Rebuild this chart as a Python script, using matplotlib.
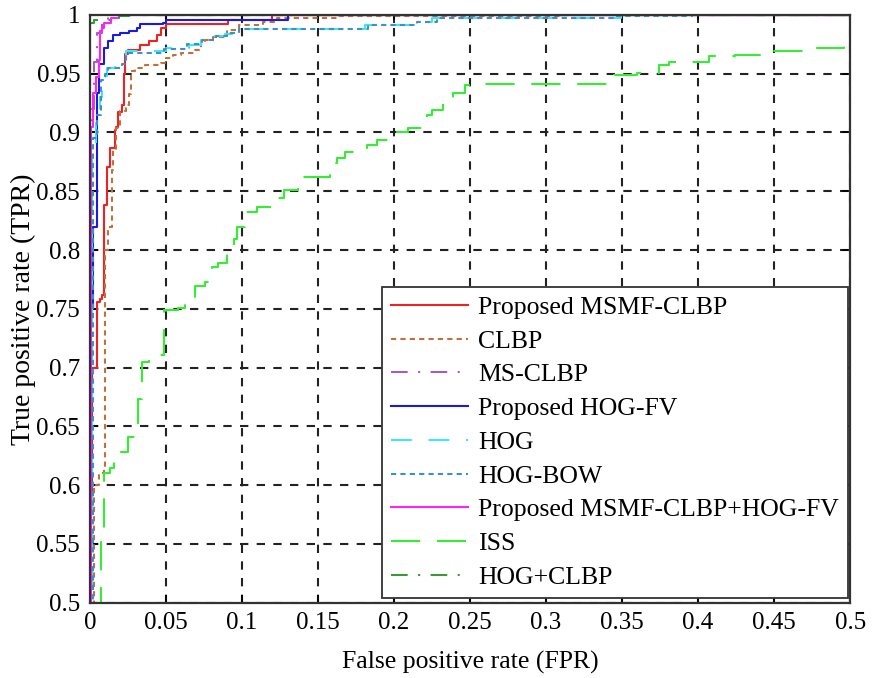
import matplotlib
matplotlib.use("Agg")
import matplotlib.pyplot as plt

plt.rcParams['font.family'] = ['Liberation Serif', 'DejaVu Serif']

# ROC curves as (FPR at jump, TPR after jump), drawn as steps
msmf_x = [0, 0, 0.0015, 0.0045, 0.0065, 0.0077, 0.0091, 0.011, 0.0115, 0.013, 0.0164, 0.0175,
          0.0186, 0.021, 0.0226, 0.023, 0.025, 0.033, 0.039, 0.044, 0.047, 0.050, 0.091, 0.120, 0.5]
msmf_y = [0.45, 0.58, 0.70, 0.756, 0.758, 0.762, 0.838, 0.840, 0.871, 0.887, 0.902, 0.905,
          0.917, 0.923, 0.950, 0.967, 0.970, 0.974, 0.978, 0.983, 0.989, 0.992, 0.996, 1.0, 1.0]

clbp_x = [0.0026, 0.0026, 0.006, 0.0094, 0.0099, 0.012, 0.0143, 0.0153, 0.0175, 0.0197, 0.024,
          0.026, 0.027, 0.030, 0.036, 0.047, 0.050, 0.055, 0.060, 0.069, 0.073, 0.076, 0.081,
          0.090, 0.098, 0.114, 0.123, 0.164, 0.31, 0.5]
clbp_y = [0.45, 0.60, 0.61, 0.615, 0.80, 0.82, 0.868, 0.885, 0.904, 0.918, 0.923,
          0.933, 0.952, 0.955, 0.957, 0.959, 0.963, 0.966, 0.968, 0.970, 0.976, 0.979, 0.981,
          0.987, 0.991, 0.994, 0.997, 0.999, 1.0, 1.0]

msclbp_x = [0, 0.0005, 0.003, 0.005, 0.008, 0.012, 0.5]
msclbp_y = [0.45, 0.92, 0.96, 0.985, 0.995, 1.0, 1.0]

hogfv_x = [0, 0, 0.002, 0.005, 0.006, 0.0094, 0.0116, 0.015, 0.020, 0.026, 0.031, 0.033,
           0.048, 0.050, 0.130, 0.5]
hogfv_y = [0.45, 0.75, 0.82, 0.934, 0.958, 0.972, 0.978, 0.983, 0.985, 0.986, 0.989, 0.992,
           0.993, 0.996, 1.0, 1.0]

hog_x = [0, 0.0015, 0.004, 0.0066, 0.008, 0.0099, 0.011, 0.0164, 0.021, 0.023, 0.024, 0.050,
         0.065, 0.073, 0.082, 0.089, 0.0976, 0.181, 0.217, 0.225, 0.349, 0.5]
hog_y = [0.45, 0.89, 0.91, 0.93, 0.947, 0.948, 0.955, 0.956, 0.957, 0.960, 0.969, 0.972,
         0.974, 0.979, 0.982, 0.984, 0.988, 0.991, 0.994, 0.997, 1.0, 1.0]

hogbow_x = [0, 0.002, 0.005, 0.007, 0.0099, 0.012, 0.021, 0.024, 0.049, 0.064, 0.074, 0.083,
            0.090, 0.098, 0.183, 0.215, 0.228, 0.345, 0.396, 0.5]
hogbow_y = [0.45, 0.895, 0.915, 0.945, 0.950, 0.955, 0.958, 0.968, 0.971, 0.975, 0.979, 0.982,
            0.985, 0.988, 0.991, 0.994, 0.997, 0.999, 1.0, 1.0]

fused_x = [0, 0.0007, 0.002, 0.004, 0.006, 0.0066, 0.0083, 0.0094, 0.014, 0.019, 0.5]
fused_y = [0.45, 0.905, 0.934, 0.947, 0.962, 0.986, 0.989, 0.993, 0.997, 1.0, 1.0]

iss_x = [0.007, 0.007, 0.009, 0.013, 0.016, 0.020, 0.025, 0.0316, 0.034, 0.039, 0.049, 0.058,
         0.0625, 0.069, 0.0757, 0.080, 0.084, 0.090, 0.095, 0.097, 0.102, 0.110, 0.124, 0.128,
         0.137, 0.158, 0.1625, 0.168, 0.176, 0.182, 0.189, 0.202, 0.209, 0.220, 0.222, 0.225,
         0.232, 0.239, 0.247, 0.255, 0.345, 0.36, 0.374, 0.381, 0.407, 0.424, 0.45, 0.475,
         0.496, 0.5]
iss_y = [0.45, 0.56, 0.61, 0.615, 0.62, 0.628, 0.641, 0.673, 0.705, 0.711, 0.749, 0.751,
         0.756, 0.769, 0.773, 0.786, 0.789, 0.798, 0.809, 0.820, 0.832, 0.837, 0.844, 0.851,
         0.862, 0.874, 0.878, 0.883, 0.887, 0.889, 0.894, 0.900, 0.904, 0.906, 0.915, 0.919,
         0.925, 0.934, 0.940, 0.941, 0.949, 0.951, 0.957, 0.960, 0.965, 0.966, 0.969, 0.972,
         0.974, 0.974]

hogclbp_x = [0, 0, 0.003, 0.014, 0.019, 0.026, 0.5]
hogclbp_y = [0.45, 0.993, 0.996, 0.997, 0.999, 1.0, 1.0]

xticks = [0, 0.05, 0.1, 0.15, 0.2, 0.25, 0.3, 0.35, 0.4, 0.45, 0.5]
yticks = [0.5, 0.55, 0.6, 0.65, 0.7, 0.75, 0.8, 0.85, 0.9, 0.95, 1]

fig = plt.figure(figsize=(8.81, 6.78), dpi=100)
ax = fig.add_axes([0.102, 0.111, 0.863, 0.867])

ax.plot(msmf_x, msmf_y, color='#ee2222', lw=1.5, drawstyle='steps-post', label='Proposed MSMF-CLBP')
ax.plot(clbp_x, clbp_y, color='#c0703c', lw=1.5, ls=(0, (2.5, 2)), drawstyle='steps-post', label='CLBP')
ax.plot(msclbp_x, msclbp_y, color='#a060b8', lw=1.5, ls=(0, (8, 5, 1, 5)), drawstyle='steps-post', label='MS-CLBP')
ax.plot(hogfv_x, hogfv_y, color='#1a1ae0', lw=1.5, drawstyle='steps-post', label='Proposed HOG-FV')
ax.plot(hog_x, hog_y, color='#40e6f0', lw=1.5, ls=(0, (10, 8)), drawstyle='steps-post', label='HOG')
ax.plot(hogbow_x, hogbow_y, color='#3d8fd0', lw=1.5, ls=(0, (2.5, 2)), drawstyle='steps-post', label='HOG-BOW')
ax.plot(fused_x, fused_y, color='#ff22ff', lw=1.5, drawstyle='steps-post', label='Proposed MSMF-CLBP+HOG-FV')
ax.plot(iss_x, iss_y, color='#33ee33', lw=1.5, ls=(0, (14, 8)), drawstyle='steps-post', label='ISS')
ax.plot(hogclbp_x, hogclbp_y, color='#3a9a3a', lw=1.5, ls=(0, (8, 5, 1, 5)), drawstyle='steps-post', label='HOG+CLBP')

ax.set_xlim(0, 0.5)
ax.set_ylim(0.5, 1)
ax.set_xticks(xticks)
ax.set_yticks(yticks)
ax.set_xticklabels(['%g' % v for v in xticks])
ax.set_yticklabels(['%g' % v for v in yticks])
ax.tick_params(direction='in', top=True, right=True, length=6, width=1.2, labelsize=18, pad=7)
ax.grid(True, color='#222222', ls=(0, (4, 4)), lw=1.5)
for s in ax.spines.values():
    s.set_color('#333333')
    s.set_linewidth(1.6)

ax.set_xlabel('False positive rate (FPR)', fontsize=18.5, labelpad=12)
ax.set_ylabel('True positive rate (TPR)', fontsize=20, labelpad=0)

leg = ax.legend(loc='lower right', bbox_to_anchor=(0.997, 0.008), borderaxespad=0,
                fontsize=18.5, fancybox=False, handlelength=3.0, handletextpad=0.4,
                labelspacing=0.42, borderpad=0.35, framealpha=1)
leg.get_frame().set_edgecolor('#333333')
leg.get_frame().set_linewidth(1.3)

fig.savefig('out.png', dpi=100)
